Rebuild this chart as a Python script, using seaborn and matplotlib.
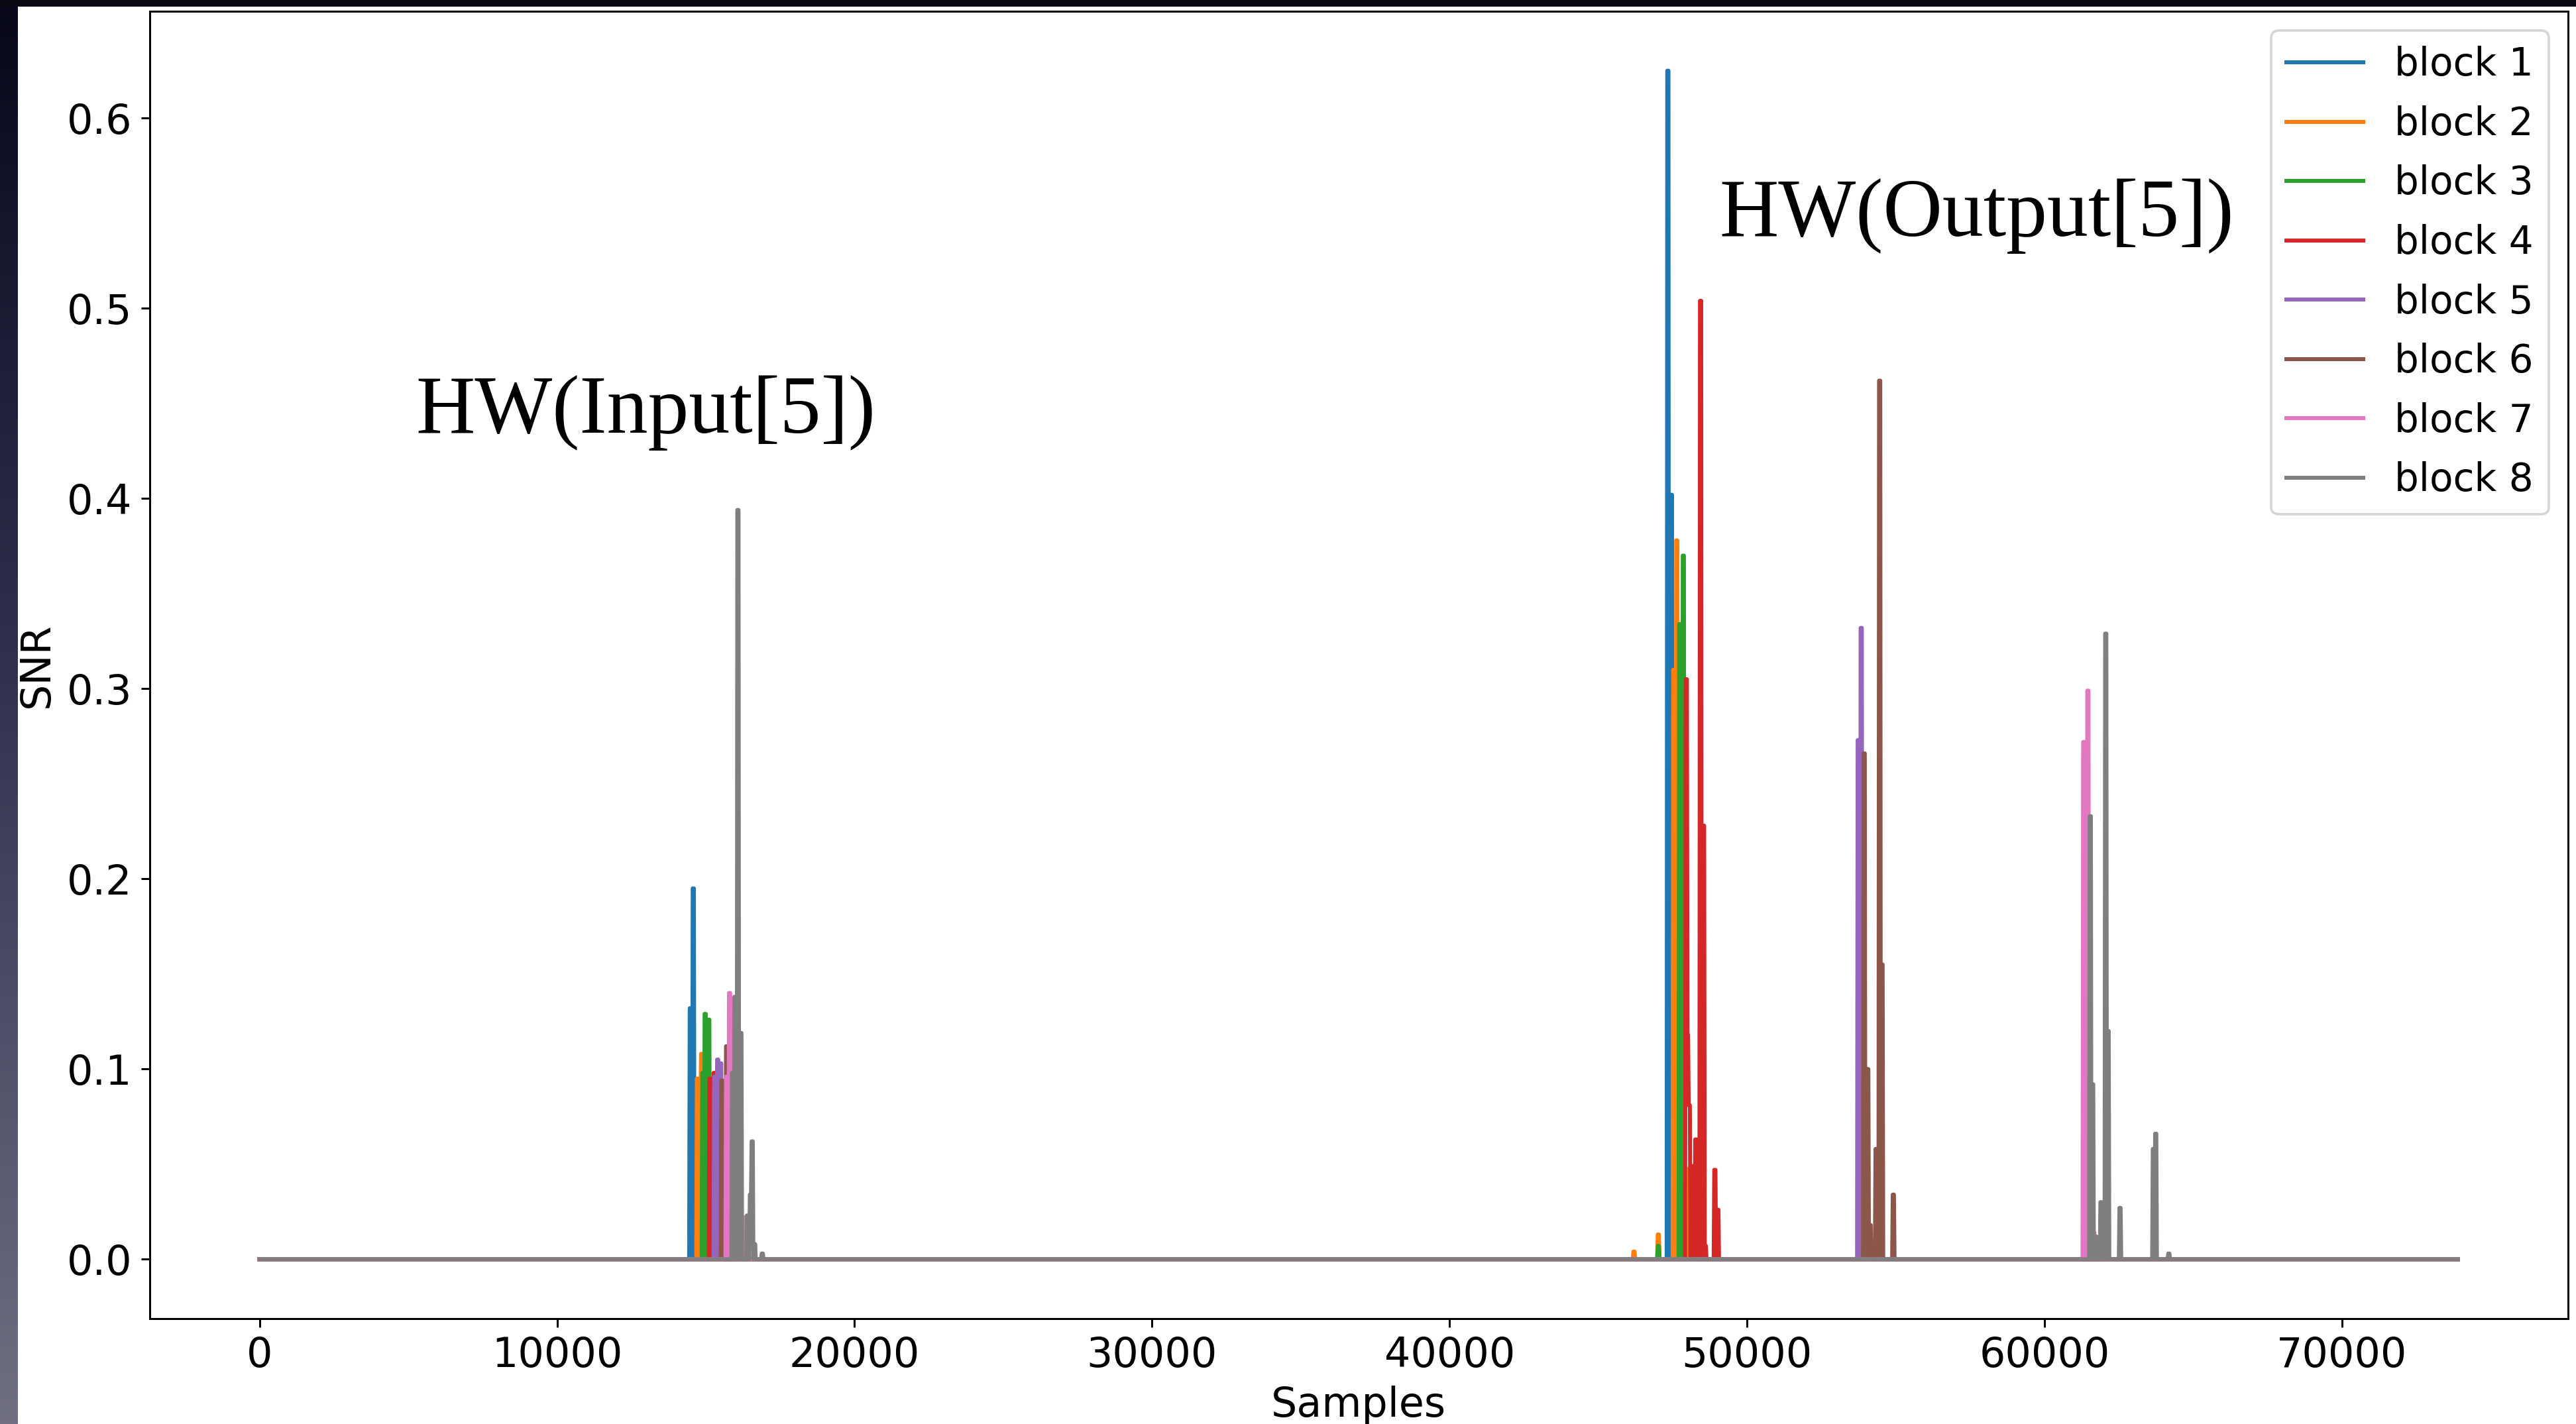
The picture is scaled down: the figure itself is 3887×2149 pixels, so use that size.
import numpy as np
import pandas as pd
import matplotlib
matplotlib.use("Agg")
import matplotlib.pyplot as plt
import seaborn as sns

# ---------------- data ----------------
blocks = ["block 1", "block 2", "block 3", "block 4",
          "block 5", "block 6", "block 7", "block 8"]
n_samples_max = 73900
step = 20

b1_x = [14460, 14560, 47330, 47430]
b1_y = [0.132, 0.195, 0.625, 0.402]

b2_x = [14700, 14790, 14850, 46180, 46990, 47530, 47620, 48060]
b2_y = [0.095, 0.080, 0.108, 0.004, 0.013, 0.310, 0.378, 0.048]

b3_x = [14870, 14970, 15080, 47000, 47730, 47830, 48160]
b3_y = [0.098, 0.129, 0.126, 0.007, 0.334, 0.370, 0.045]

b4_x = [15110, 15260, 47935, 48010, 48050, 48130, 48260, 48425, 48510, 48585, 48895, 48990]
b4_y = [0.095, 0.098, 0.305, 0.118, 0.081, 0.049, 0.063, 0.504, 0.228, 0.007, 0.047, 0.026]

b5_x = [15270, 15380, 15490, 53710, 53815, 54000]
b5_y = [0.096, 0.105, 0.103, 0.273, 0.332, 0.018]

b6_x = [15510, 15670, 53920, 54030, 54130, 54330, 54450, 54530, 54900]
b6_y = [0.094, 0.112, 0.266, 0.100, 0.018, 0.058, 0.462, 0.155, 0.034]

b7_x = [15690, 15780, 15850, 16270, 61300, 61430, 61640]
b7_y = [0.096, 0.140, 0.125, 0.022, 0.272, 0.299, 0.014]

b8_x = [15870, 15960, 16065, 16160, 16380, 16470, 16540, 16620, 16890,
        61530, 61610, 61700, 61880, 62030, 62120, 62520, 63640, 63730, 64160]
b8_y = [0.098, 0.138, 0.394, 0.119, 0.023, 0.034, 0.062, 0.008, 0.003,
        0.233, 0.092, 0.012, 0.030, 0.329, 0.120, 0.027, 0.058, 0.066, 0.003]

peaks_x = [b1_x, b2_x, b3_x, b4_x, b5_x, b6_x, b7_x, b8_x]
peaks_y = [b1_y, b2_y, b3_y, b4_y, b5_y, b6_y, b7_y, b8_y]

annot_texts = ["HW(Input[5])", "HW(Output[5])"]
annot_x = [5240, 49070]
annot_y = [0.4346, 0.538]

# ---------------- build long-form table ----------------
# each read value is held for a few samples (never past the next read value)
grid = np.arange(0, n_samples_max + 1, step)
frames = []
for name, px, py in zip(blocks, peaks_x, peaks_y):
    s = np.zeros(len(grid))
    for i, (x, y) in enumerate(zip(px, py)):
        i0 = int(round(x / step))
        i1 = i0 + 3
        if i + 1 < len(px):
            i1 = min(i1, int(round(px[i + 1] / step)))
        s[i0:max(i1, i0 + 1)] = y
    frames.append(pd.DataFrame({"Samples": grid, "SNR": s, "block": name}))
df = pd.concat(frames, ignore_index=True)

# ---------------- figure ----------------
W, H, DPI = 3887, 2149, 270
fig = plt.figure(figsize=(W / DPI, H / DPI), dpi=DPI, facecolor="white")

# slide background strips (decoration)
strip_w, top_h = 27, 10
hh = H - top_h
t = np.linspace(0, 1, hh)[:, None]
c_top = np.array([8, 8, 26]) / 255
c_mid = np.array([50, 50, 80]) / 255
c_bot = np.array([112, 112, 130]) / 255
grad = np.where(t < 0.47, c_top + (c_mid - c_top) * (t / 0.47),
                c_mid + (c_bot - c_mid) * ((t - 0.47) / 0.53))
left_img = np.repeat(grad[:, None, :], strip_w, axis=1).reshape(hh, strip_w, 3)
fig.figimage(left_img, xo=0, yo=0, origin="upper", zorder=0)
top_img = np.ones((top_h, W, 3)) * (np.array([10, 10, 20]) / 255)
fig.figimage(top_img, xo=0, yo=H - top_h, origin="upper", zorder=0)

ax = fig.add_axes([225.6 / W, 1 - 1990 / H, (3875 - 225.6) / W, (1990 - 17) / H])

palette = sns.color_palette("tab10", 8)
sns.lineplot(data=df, x="Samples", y="SNR", hue="block", hue_order=blocks,
             palette=palette, estimator=None, sort=False, linewidth=1.6, ax=ax)

ax.set_xlim(-3700, 77600)
ax.set_ylim(-0.03125, 0.65625)
ax.set_xticks(np.arange(0, 70001, 10000))
ax.set_yticks(np.arange(0, 0.61, 0.1))
ax.set_yticklabels([f"{v:.1f}" for v in np.arange(0, 0.61, 0.1)])
ax.tick_params(labelsize=16.5)
ax.set_xlabel("Samples", fontsize=16.5)
ax.set_ylabel("SNR", fontsize=16.5)

for txt, x, y in zip(annot_texts, annot_x, annot_y):
    ax.text(x, y, txt, fontfamily="Liberation Serif", fontsize=33,
            ha="left", va="baseline")

sns.move_legend(ax, "upper right", title=None, fontsize=15.5, labelspacing=0.56)

fig.savefig("out.png", dpi=DPI)
